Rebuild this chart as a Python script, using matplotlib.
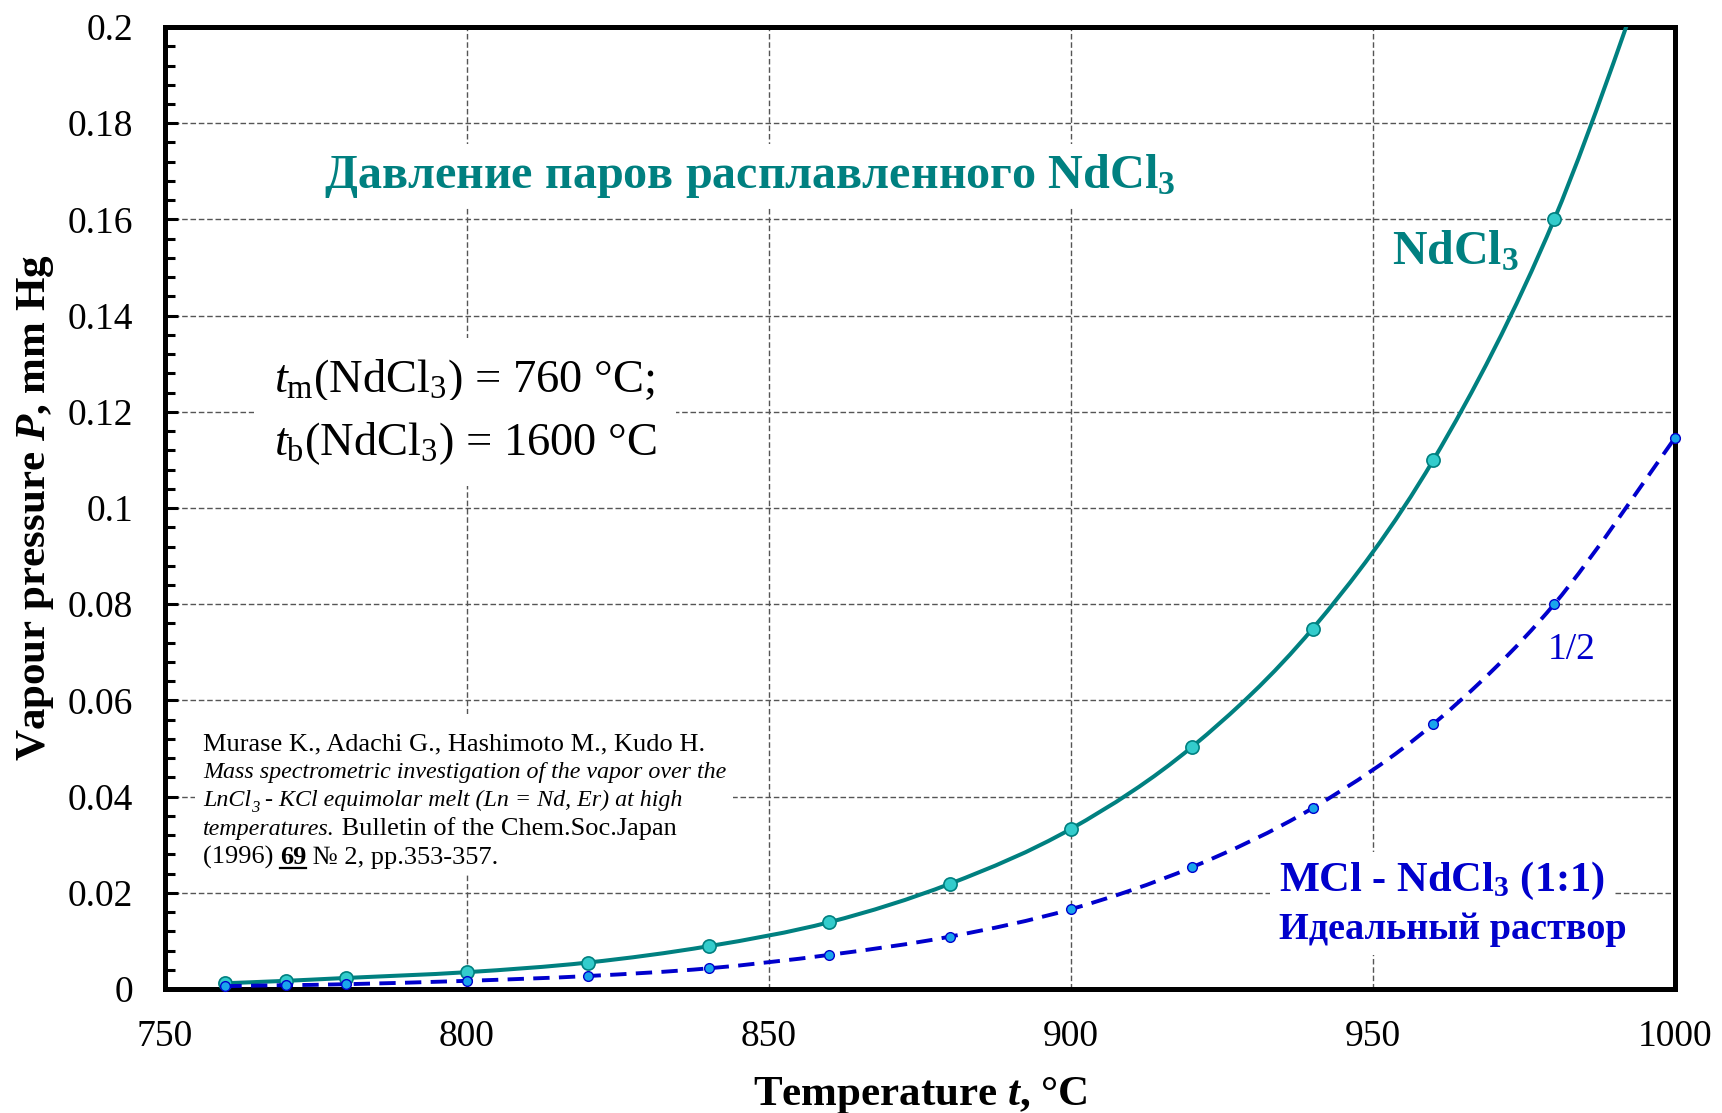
import numpy as np
import matplotlib
matplotlib.use('Agg')
import matplotlib.pyplot as plt
from matplotlib.ticker import MultipleLocator
from matplotlib.patches import Rectangle, PathPatch
from matplotlib.path import Path
from matplotlib.lines import Line2D
from matplotlib.transforms import IdentityTransform

plt.rcParams['font.family'] = ['Liberation Serif', 'DejaVu Serif']
plt.rcParams['mathtext.fontset'] = 'custom'
plt.rcParams['mathtext.rm'] = 'Liberation Serif'
plt.rcParams['mathtext.it'] = 'Liberation Serif:italic'
plt.rcParams['mathtext.bf'] = 'Liberation Serif:bold'
plt.rcParams['mathtext.bfit'] = 'Liberation Serif:bold:italic'

# vapour pressure of pure NdCl3 melt, mm Hg (last point only for the line, off scale)
t_nd = [760, 770, 780, 800, 820, 840, 860, 880, 900, 920, 940, 960, 980, 1000]
p_nd = [0.0012, 0.0017, 0.0023, 0.0035, 0.0055, 0.0089, 0.0139, 0.0219,
        0.0333, 0.0503, 0.0749, 0.110, 0.160, 0.229]

# MCl - NdCl3 (1:1), ideal solution -> 1/2 of the pure value
t_mix = [760, 770, 780, 800, 820, 840, 860, 880, 900, 920, 940, 960, 980, 1000]
p_mix = [0.0006, 0.0008, 0.0010, 0.0017, 0.0027, 0.0043, 0.0071, 0.0109,
         0.0166, 0.0253, 0.0376, 0.0551, 0.080, 0.1146]

xticks = [750, 800, 850, 900, 950, 1000]
yticks = [0, 0.02, 0.04, 0.06, 0.08, 0.1, 0.12, 0.14, 0.16, 0.18, 0.2]
ylabels = ['0', '0.02', '0.04', '0.06', '0.08', '0.1', '0.12', '0.14', '0.16', '0.18', '0.2']

teal = '#008080'
teal_face = '#33CCCC'
blue = '#0000CC'
blue_face = '#19A5EC'


def smooth_path(xs, ys):
    # excel-like smoothed line: bezier segments through every point
    pts = np.column_stack([xs, ys]).astype(float)
    n = len(pts)
    verts = [pts[0]]
    codes = [Path.MOVETO]
    for i in range(n - 1):
        p0 = pts[i - 1] if i > 0 else pts[i]
        p1, p2 = pts[i], pts[i + 1]
        p3 = pts[i + 2] if i + 2 < n else pts[i + 1]
        verts += [p1 + (p2 - p0) / 6, p2 - (p3 - p1) / 6, p2]
        codes += [Path.CURVE4] * 3
    return Path(verts, codes)


fig = plt.figure(figsize=(17.22, 11.13), dpi=100)
ax = fig.add_axes([0.0958, 0.1114, 0.8769, 0.8643])
ax.set_axisbelow(True)

ax.add_patch(PathPatch(smooth_path(t_nd, p_nd), fill=False, edgecolor=teal,
                       lw=2.9, zorder=4))
ax.plot(t_nd, p_nd, ls='none', marker='o', ms=9.5,
        mfc=teal_face, mec=teal, mew=1.2, zorder=4.5)
ax.add_patch(PathPatch(smooth_path(t_mix, p_mix), fill=False, edgecolor=blue,
                       lw=2.8, ls=(0, (4.2, 2.4)), zorder=5))
ax.plot(t_mix, p_mix, ls='none', marker='o', ms=7,
        mfc=blue_face, mec=blue, mew=1.0, zorder=5.5, clip_on=False)

ax.set_xlim(750, 1000)
ax.set_ylim(0, 0.2)
ax.set_xticks(xticks)
ax.set_xticklabels([str(v) for v in xticks])
ax.set_yticks(yticks)
ax.set_yticklabels(ylabels)
ax.yaxis.set_minor_locator(MultipleLocator(0.004))
ax.tick_params(axis='y', which='major', direction='in', length=9, width=2.2,
               pad=23, labelsize=27, right=False)
ax.tick_params(axis='y', which='minor', direction='in', length=7, width=2.2, right=False)
ax.tick_params(axis='x', which='both', length=0, pad=22, labelsize=27, top=False)
ax.grid(True, which='major', ls=(0, (4, 2)), color='#555555', lw=1.0)
for sp in ax.spines.values():
    sp.set_linewidth(3.6)

ax.set_xlabel(r'Temperature $\mathbfit{t}$, °C', fontsize=31, fontweight='bold', labelpad=15)
ax.set_ylabel(r'Vapour pressure $\mathbfit{P}$, mm Hg', fontsize=31, fontweight='bold', labelpad=8)

white = dict(facecolor='white', edgecolor='none', pad=6)

ax.text(776.3, 0.1690, r'Давление паров расплавленного NdCl$_\mathbf{3}$', color=teal,
        fontsize=34.7, fontweight='bold', va='center', ha='left', bbox=white, zorder=3)
ax.text(953.1, 0.1532, r'NdCl$_\mathbf{3}$', color=teal, fontsize=34.5, fontweight='bold',
        va='center', ha='left', zorder=3)

ax.text(768.0, 0.1264, r'$t_\mathrm{m}$(NdCl$_3$) = 760 °C;', fontsize=33.5,
        va='center', ha='left', bbox=dict(facecolor='white', edgecolor='none', pad=14), zorder=3)
ax.text(768.0, 0.1135, r'$t_\mathrm{b}$(NdCl$_3$) = 1600 °C', fontsize=33.5,
        va='center', ha='left', bbox=dict(facecolor='white', edgecolor='none', pad=14), zorder=3)

ax.text(934.4, 0.0224, r'MCl - NdCl$_\mathbf{3}$ (1:1)', color=blue, fontsize=30.5,
        fontweight='bold', va='center', ha='left', bbox=white, zorder=3)
ax.text(934.4, 0.0124, 'Идеальный раствор', color=blue, fontsize=27.5,
        fontweight='bold', va='center', ha='left', bbox=white, zorder=3)
ax.text(979.0, 0.0706, '1/2', color=blue, fontsize=27, va='center', ha='left', zorder=3)

# reference block
ax.add_patch(Rectangle((755.0, 0.0241), 89.0, 0.0331, facecolor='white',
                       edgecolor='none', zorder=2.8))

renderer = fig.canvas.get_renderer()


def put_line(x, y, segs):
    dx = 0.0
    placed = []
    for s, style in segs:
        style = dict(style)
        dy = style.pop('dy', 0)
        t = ax.annotate(s, xy=(x, y), xycoords='data', xytext=(dx, dy),
                        textcoords='offset points', va='baseline', ha='left',
                        zorder=3, **style)
        bb = t.get_window_extent(renderer)
        dx += bb.width * 72.0 / fig.dpi
        placed.append(t)
    return placed


it = dict(style='italic', fontsize=17.3)
rm = dict(fontsize=19)
put_line(756.3, 0.0497, [('Murase K., Adachi G., Hashimoto M., Kudo H.', rm)])
put_line(756.3, 0.0438, [('Mass spectrometric investigation of the vapor over the', it)])
put_line(756.3, 0.0380, [('LnCl', it), ('3', dict(style='italic', fontsize=12, dy=-4)),
                         (' - KCl equimolar melt (Ln = Nd, Er) at high', it)])
put_line(756.3, 0.0320, [('temperatures.', it), (' Bulletin of the Chem.Soc.Japan', rm)])
segs = put_line(756.3, 0.0260, [('(1996) ', rm), ('69', dict(fontsize=19, fontweight='bold')),
                                (' № 2, pp.353-357.', rm)])
bb = segs[1].get_window_extent(renderer)
yb = ax.transData.transform((756.3, 0.0260))[1] - 4
fig.add_artist(Line2D([bb.x0, bb.x1], [yb, yb], transform=IdentityTransform(),
                      color='black', lw=1.6))

fig.savefig('out.png', dpi=100)
